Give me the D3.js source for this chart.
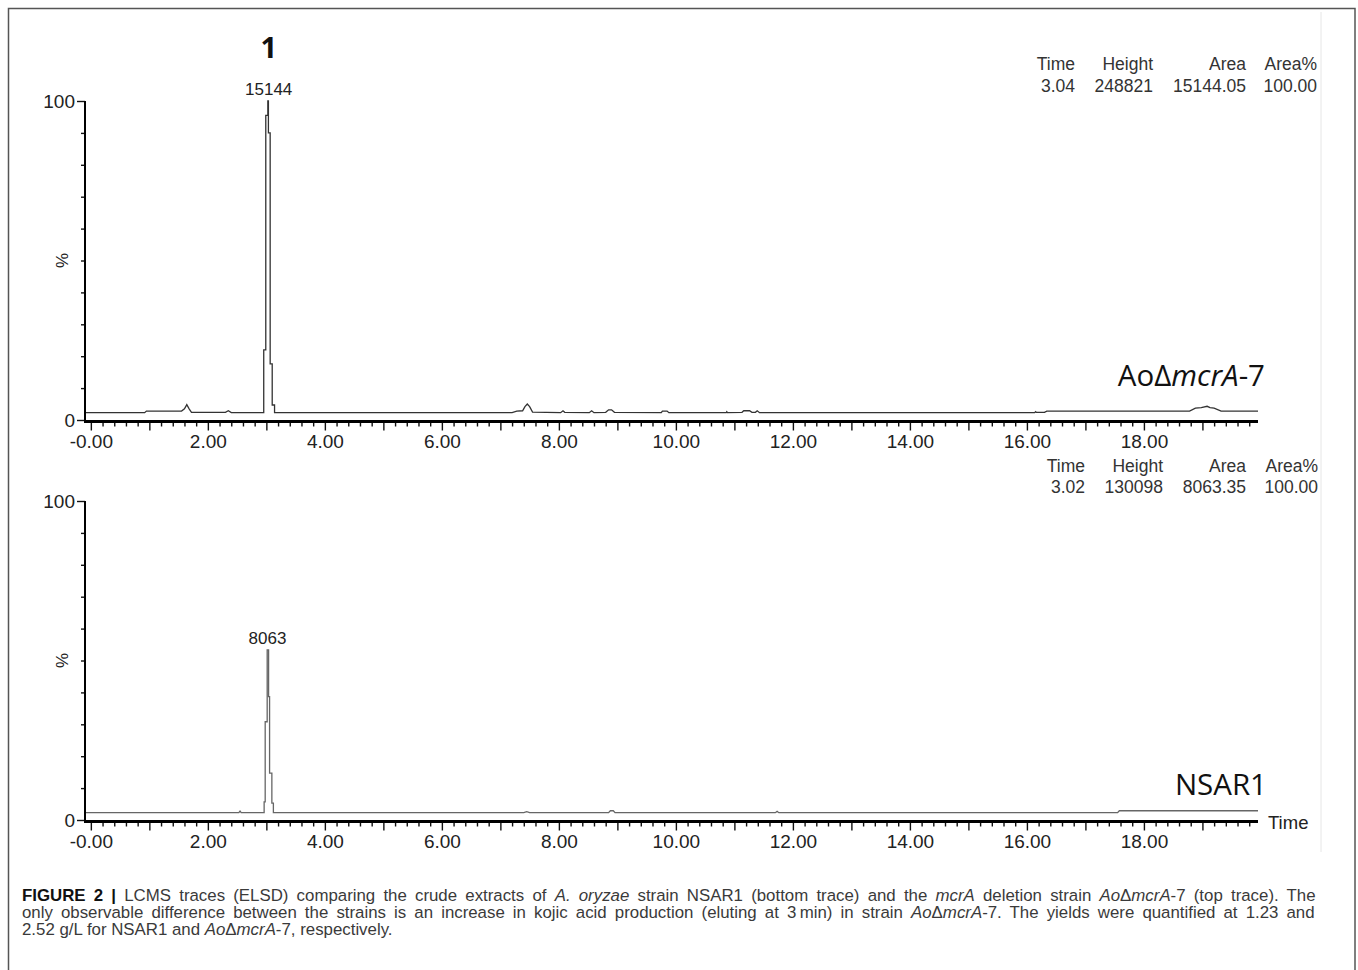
<!DOCTYPE html>
<html>
<head>
<meta charset="utf-8">
<script src="https://cdn.jsdelivr.net/npm/d3@7"></script>
<style>
  body { margin: 0; background: #fff; }
  svg { display: block; }
</style>
</head>
<body>
<svg id="chart"></svg>
<script>
const width = 1358;
const height = 970;

// AoΔmcrA-7 trace: retention time (min) and signal (%)
const mutantTime = [-0.1, 0.92, 0.95, 1.55, 1.6, 1.64, 1.68, 1.72, 2.3, 2.35, 2.4, 2.955,
  2.955, 2.99, 2.99, 3.025, 3.025, 3.035, 3.035, 3.065, 3.065, 3.1, 3.1, 3.14, 3.14,
  7.2, 7.28, 7.38, 7.42, 7.46, 7.5, 7.55, 8.03, 8.07, 8.1, 8.52, 8.56, 8.6, 8.8, 8.85,
  8.9, 8.95, 9.75, 9.77, 9.85, 9.88, 10.86, 10.87, 10.88, 11.13, 11.16, 11.26, 11.3,
  11.36, 11.39, 11.43, 16.13, 16.15, 16.16, 16.3, 16.34, 16.38, 18.78, 18.88, 18.98,
  19.08, 19.13, 19.2, 19.32, 19.95];
const mutantPct = [2.3, 2.3, 2.8, 2.8, 3.5, 4.8, 3.5, 2.4, 2.4, 2.9, 2.3, 2.3,
  22, 22, 95.5, 95.5, 100, 100, 90, 90, 17.6, 17.6, 4.7, 4.7, 2.3,
  2.3, 2.8, 2.9, 4.2, 5.0, 4.2, 2.5, 2.3, 2.9, 2.4, 2.3, 2.9, 2.3, 2.4, 3.2,
  3.2, 2.4, 2.3, 2.8, 2.8, 2.3, 2.3, 2.6, 2.3, 2.4, 2.9, 2.9, 2.4,
  2.4, 2.9, 2.3, 2.3, 2.6, 2.4, 2.4, 2.8, 2.8, 2.8, 3.7, 3.9,
  4.3, 3.9, 3.7, 2.8, 2.8];

// NSAR1 trace: retention time (min) and signal (%)
const wildTime = [-0.1, 2.53, 2.55, 2.57, 2.962, 2.962, 2.98, 2.98, 3.014, 3.014, 3.038,
  3.038, 3.055, 3.055, 3.094, 3.094, 3.12, 3.12, 7.4, 7.45, 7.5, 8.85, 8.88, 8.93, 8.96,
  11.7, 11.73, 11.76, 17.55, 17.58, 19.95];
const wildPct = [2.3, 2.3, 2.8, 2.3, 2.3, 5.7, 5.7, 30.8, 30.8, 53.3, 53.3,
  38.7, 38.7, 14.7, 14.7, 5.3, 5.3, 2.3, 2.3, 2.6, 2.3, 2.3, 2.9, 2.9, 2.3,
  2.3, 2.7, 2.3, 2.3, 2.9, 2.9];

const xTickValues = [0, 2, 4, 6, 8, 10, 12, 14, 16, 18];
const xTickLabels = ["-0.00", "2.00", "4.00", "6.00", "8.00", "10.00", "12.00", "14.00", "16.00", "18.00"];
const yTickValues = [0, 100];
const yTickLabels = ["0", "100"];

const tableHeader = ["Time", "Height", "Area", "Area%"];
const mutantRow = ["3.04", "248821", "15144.05", "100.00"];
const wildRow = ["3.02", "130098", "8063.35", "100.00"];

const mutantPeak = { time: 3.04, pct: 100, label: "15144" };
const wildPeak = { time: 3.02, pct: 53.3, label: "8063" };

const svg = d3.select("#chart").attr("width", width).attr("height", height);

// figure frame
svg.append("rect")
  .attr("x", 8.5).attr("y", 8.5)
  .attr("width", 1346.5).attr("height", 980)
  .attr("fill", "none").attr("stroke", "#555").attr("stroke-width", 1.5);
svg.append("line")
  .attr("x1", 1321).attr("x2", 1321).attr("y1", 12).attr("y2", 852)
  .attr("stroke", "#e6e6e6");

const x = d3.scaleLinear().domain([-0.1, 19.95]).range([85, 1258]);

const panels = [
  { time: mutantTime, pct: mutantPct, y0: 420, y100: 101, color: "#333",
    peak: mutantPeak, row: mutantRow, cols: [1075, 1153, 1246, 1317], headY: 70, rowY: 92 },
  { time: wildTime, pct: wildPct, y0: 820, y100: 501, color: "#666",
    peak: wildPeak, row: wildRow, cols: [1085, 1163, 1246, 1318], headY: 472, rowY: 493 }
];

const font = "'Liberation Sans', Arial, sans-serif";

panels.forEach(p => {
  const y = d3.scaleLinear().domain([0, 100]).range([p.y0, p.y100]);
  const g = svg.append("g");

  // trace
  const pts = p.time.map((t, i) => [t, p.pct[i]]);
  g.append("path")
    .datum(pts)
    .attr("fill", "none")
    .attr("stroke", p.color)
    .attr("stroke-width", 1.3)
    .attr("d", d3.line().x(d => x(d[0])).y(d => y(d[1])));

  // x axis: minor, major, labels
  const axisY = p.y0 + 1.5;
  const minor = d3.range(0, 100).map(i => i * 0.2).filter(v => v <= 19.95 && Math.round(v * 5) % 5 !== 0);
  const major = d3.range(0, 20);
  const ax = g.append("g").attr("transform", `translate(0,${axisY})`);
  ax.append("g")
    .call(d3.axisBottom(x).tickValues(minor).tickSize(5).tickFormat(""))
    .call(s => s.select(".domain").remove());
  ax.append("g")
    .call(d3.axisBottom(x).tickValues(major).tickSize(9)
      .tickFormat(d => {
        const i = xTickValues.indexOf(d);
        return i >= 0 ? xTickLabels[i] : "";
      })
      .tickPadding(4))
    .call(s => s.select(".domain").remove());
  ax.selectAll("line").attr("stroke", "#111").attr("stroke-width", 1.4);
  ax.selectAll("text").attr("font-family", font).attr("font-size", 19).attr("fill", "#222");
  ax.append("line")
    .attr("x1", x(-0.1)).attr("x2", x(19.95))
    .attr("stroke", "#000").attr("stroke-width", 3);

  // y axis
  const ay = g.append("g").attr("transform", `translate(85,0)`);
  ay.append("g")
    .call(d3.axisLeft(y).tickValues(d3.range(10, 100, 10)).tickSize(4).tickFormat(""))
    .call(s => s.select(".domain").remove());
  ay.append("g")
    .call(d3.axisLeft(y).tickValues(yTickValues).tickSize(8).tickPadding(2)
      .tickFormat((d, i) => yTickLabels[i]))
    .call(s => s.select(".domain").remove());
  ay.selectAll("line").attr("stroke", "#111").attr("stroke-width", 1.4);
  ay.selectAll("text").attr("font-family", font).attr("font-size", 19).attr("fill", "#222");
  ay.append("line")
    .attr("y1", y(100)).attr("y2", p.y0 + 3)
    .attr("stroke", "#000").attr("stroke-width", 2);

  g.append("text")
    .attr("transform", `translate(68,${y(50)}) rotate(-90)`)
    .attr("text-anchor", "middle")
    .attr("font-family", font).attr("font-size", 17).attr("fill", "#222")
    .text("%");

  // peak label
  g.append("text")
    .attr("x", x(p.peak.time)).attr("y", y(p.peak.pct) - 6)
    .attr("text-anchor", "middle")
    .attr("font-family", font).attr("font-size", 17).attr("fill", "#222")
    .text(p.peak.label);

  // integration table
  [[tableHeader, p.headY], [p.row, p.rowY]].forEach(([cells, ty]) => {
    g.selectAll(null).data(cells).join("text")
      .attr("x", (_, i) => p.cols[i]).attr("y", ty)
      .attr("text-anchor", "end")
      .attr("font-family", font).attr("font-size", 17.5).attr("fill", "#333")
      .text(d => d);
  });
});

// compound number
svg.append("text")
  .attr("x", x(3.04)).attr("y", 58)
  .attr("text-anchor", "middle")
  .attr("font-family", "'Open Sans', sans-serif").attr("font-weight", "bold")
  .attr("font-size", 29).attr("fill", "#111")
  .text("1");

// trace names
const nameFont = "'Open Sans', 'Noto Sans', sans-serif";
const mut = svg.append("text")
  .attr("x", 1265).attr("y", 386)
  .attr("text-anchor", "end")
  .attr("font-family", nameFont).attr("font-size", 29.5).attr("fill", "#111");
mut.append("tspan").text("AoΔ");
mut.append("tspan").attr("font-style", "italic").text("mcrA");
mut.append("tspan").text("-7");

svg.append("text")
  .attr("x", 1267).attr("y", 795)
  .attr("text-anchor", "end")
  .attr("font-family", nameFont).attr("font-size", 29.5).attr("fill", "#111")
  .text("NSAR1");

svg.append("text")
  .attr("x", 1268).attr("y", 829)
  .attr("font-family", font).attr("font-size", 18.5).attr("fill", "#222")
  .text("Time");

// caption (first two lines justified)
const captionLines = [
  [["FIGURE 2 | ", "b"], ["LCMS traces (ELSD) comparing the crude extracts of ", ""], ["A. oryzae", "i"],
   [" strain NSAR1 (bottom trace) and the ", ""], ["mcrA", "i"], [" deletion strain ", ""],
   ["Ao", "i"], ["Δ", ""], ["mcrA", "i"], ["-7 (top trace). The", ""]],
  [["only observable difference between the strains is an increase in kojic acid production (eluting at 3\u2009min) in strain ", ""],
   ["Ao", "i"], ["Δ", ""], ["mcrA", "i"], ["-7. The yields were quantified at 1.23 and", ""]],
  [["2.52 g/L for NSAR1 and ", ""], ["Ao", "i"], ["Δ", ""], ["mcrA", "i"], ["-7, respectively.", ""]]
];
const captionEnds = [1317, 1316, 368];
const captionBase = [901, 918, 935];

const capTexts = captionLines.map(segs => {
  const t = svg.append("text")
    .attr("font-family", font).attr("font-size", 16.5).attr("fill", "#3a3a3a");
  segs.forEach(([s, st]) => {
    const ts = t.append("tspan").text(s);
    if (st === "b") ts.attr("font-weight", "bold").attr("fill", "#111");
    if (st === "i") ts.attr("font-style", "italic");
  });
  return t;
});
const widths = capTexts.map(t => t.node().getComputedTextLength());
const fits = widths.map((w, i) => (captionEnds[i] - 22) / w);
const k = Math.sqrt(d3.mean(fits.slice(0, 2)) * fits[2]);
capTexts.forEach((t, li) => {
  if (li < 2) {
    const spaces = captionLines[li].map(s => s[0]).join("").split(" ").length - 1;
    t.attr("word-spacing", ((captionEnds[li] - 22) / k - widths[li]) / spaces);
  }
  t.attr("transform", `translate(22,${captionBase[li]}) scale(${k},1)`);
});
</script>
</body>
</html>
